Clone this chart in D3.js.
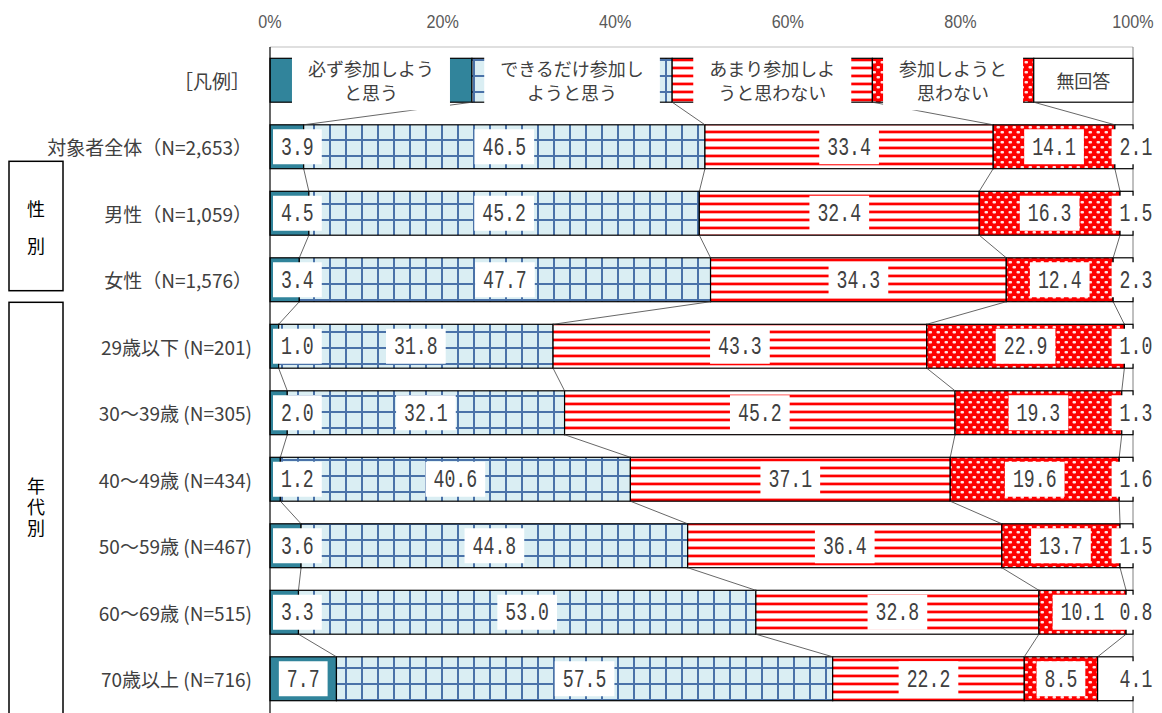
<!DOCTYPE html>
<html>
<head>
<meta charset="utf-8">
<script src="https://cdn.jsdelivr.net/npm/d3@7"></script>
<style>
	body { margin: 0; background: #fff; }
	svg { display: block; font-family: "Noto Sans CJK JP", "Noto Sans", sans-serif; }
	.cat { font-size: 19px; fill: #404040; }
	.tick { font-family: "Liberation Sans", sans-serif; font-size: 19px; fill: #595959; }
	.val { font-family: "Liberation Mono", monospace; font-size: 26px; fill: #404040; }
	.leg { font-size: 18px; fill: #404040; }
	.grp { font-size: 18px; fill: #000; writing-mode: vertical-rl; }
</style>
</head>
<body>
<svg id="chart" width="1162" height="713"></svg>
<script>
// 항목 / 계열
const categories = [
	'対象者全体（N=2,653）',
	'男性（N=1,059）',
	'女性（N=1,576）',
	'29歳以下 (N=201)',
	'30～39歳 (N=305)',
	'40～49歳 (N=434)',
	'50～59歳 (N=467)',
	'60～69歳 (N=515)',
	'70歳以上 (N=716)'
];
const seriesNames = ['必ず参加しようと思う', 'できるだけ参加しようと思う', 'あまり参加しようと思わない', '参加しようと思わない', '無回答'];

const mustJoin    = [3.9, 4.5, 3.4, 1.0, 2.0, 1.2, 3.6, 3.3, 7.7];
const tryJoin     = [46.5, 45.2, 47.7, 31.8, 32.1, 40.6, 44.8, 53.0, 57.5];
const rarelyJoin  = [33.4, 32.4, 34.3, 43.3, 45.2, 37.1, 36.4, 32.8, 22.2];
const notJoin     = [14.1, 16.3, 12.4, 22.9, 19.3, 19.6, 13.7, 10.1, 8.5];
const noAnswer    = [2.1, 1.5, 2.3, 1.0, 1.3, 1.6, 1.5, 0.8, 4.1];

// 凡例 row (legend drawn as a bar)
const legendTitle = '［凡例］';
const legendValues = [23.4, 23.2, 23.2, 18.7, 11.5];
const legendLines = [
	['必ず参加しよう', 'と思う'],
	['できるだけ参加し', 'ようと思う'],
	['あまり参加しよ', 'うと思わない'],
	['参加しようと', '思わない'],
	['無回答']
];

const tickValues = [0, 20, 40, 60, 80, 100];
const tickLabels = ['0%', '20%', '40%', '60%', '80%', '100%'];

// group boxes (category index range)
const groups = [
	{ text: '性別', from: 1, to: 2 },
	{ text: '年代別', from: 3, to: 8 }
];

const series = [mustJoin, tryJoin, rarelyJoin, notJoin, noAnswer];

const svg = d3.select('#chart');

// patterns
const defs = svg.append('defs');

const pGrid = defs.append('pattern').attr('id', 'pGrid')
	.attr('patternUnits', 'userSpaceOnUse').attr('width', 16).attr('height', 16)
	.attr('x', 2).attr('y', 4);
pGrid.append('rect').attr('width', 16).attr('height', 16).attr('fill', '#DAEEF3');
pGrid.append('rect').attr('x', 7).attr('width', 2).attr('height', 16).attr('fill', '#4A72A8');
pGrid.append('rect').attr('y', 7).attr('width', 16).attr('height', 2).attr('fill', '#4A72A8');

const pStripe = defs.append('pattern').attr('id', 'pStripe')
	.attr('patternUnits', 'userSpaceOnUse').attr('width', 8).attr('height', 8);
pStripe.append('rect').attr('width', 8).attr('height', 8).attr('fill', '#fff');
pStripe.append('rect').attr('y', 2).attr('width', 8).attr('height', 1).attr('fill', '#FF9A9A');
pStripe.append('rect').attr('y', 3).attr('width', 8).attr('height', 2).attr('fill', '#FF0000');
pStripe.append('rect').attr('y', 5).attr('width', 8).attr('height', 1).attr('fill', '#FFB0B0');

const pDots = defs.append('pattern').attr('id', 'pDots')
	.attr('patternUnits', 'userSpaceOnUse').attr('width', 8).attr('height', 10);
pDots.append('rect').attr('width', 8).attr('height', 10).attr('fill', '#FF0000');
pDots.append('rect').attr('x', 0.5).attr('y', 1).attr('width', 3.5).attr('height', 2.5).attr('rx', 1).attr('fill', '#FFE4E4');
pDots.append('rect').attr('x', 4.5).attr('y', 6).attr('width', 3.5).attr('height', 2.5).attr('rx', 1).attr('fill', '#FFE4E4');

const fills = ['#31849B', 'url(#pGrid)', 'url(#pStripe)', 'url(#pDots)', '#FFFFFF'];

// scales
const rowKeys = [legendTitle].concat(categories);
const x = d3.scaleLinear().domain([0, 100]).range([270, 1133]);
const y = d3.scaleBand().domain(rowKeys).range([47, 712]).paddingInner(0.34).paddingOuter(0.17);
const bw = y.bandwidth();

const rowData = rowKeys.map((k, i) => {
	const vals = i === 0 ? legendValues : series.map((s) => s[i - 1]);
	const total = d3.sum(vals);
	let acc = 0;
	return vals.map((v, j) => {
		const seg = { row: i, key: k, j: j, v: v, x0: acc / total * 100 };
		acc += v;
		seg.x1 = acc / total * 100;
		return seg;
	});
});

// frame
svg.append('line').attr('x1', x(0)).attr('x2', x(100)).attr('y1', 47).attr('y2', 47)
	.attr('stroke', '#BFBFBF').attr('stroke-width', 1);
svg.append('line').attr('x1', x(100)).attr('x2', x(100)).attr('y1', 47).attr('y2', 713)
	.attr('stroke', '#808080').attr('stroke-width', 1);

// tick labels
svg.selectAll('.tick').data(tickValues).enter().append('text')
	.attr('class', 'tick')
	.attr('text-anchor', 'middle')
	.attr('dominant-baseline', 'central')
	.attr('transform', (d) => `translate(${x(d)},22) scale(0.85,1)`)
	.text((d, i) => tickLabels[i]);

// bars
rowData.forEach((row) => {
	svg.append('g').selectAll('rect').data(row).enter().append('rect')
		.attr('x', (d) => x(d.x0))
		.attr('y', (d) => y(d.key))
		.attr('width', (d) => x(d.x1) - x(d.x0))
		.attr('height', bw)
		.attr('fill', (d) => fills[d.j])
		.attr('stroke', '#000')
		.attr('stroke-width', 1.2);
});

// left axis
svg.append('line').attr('x1', x(0)).attr('x2', x(0)).attr('y1', 47).attr('y2', 713)
	.attr('stroke', '#000').attr('stroke-width', 1.2);

// series lines between bars
for (let i = 0; i < rowData.length - 1; i++) {
	for (let j = 0; j < 4; j++) {
		svg.append('line')
			.attr('x1', x(rowData[i][j].x1))
			.attr('y1', y(rowKeys[i]) + bw)
			.attr('x2', x(rowData[i + 1][j].x1))
			.attr('y2', y(rowKeys[i + 1]))
			.attr('stroke', '#404040')
			.attr('stroke-width', 0.8);
	}
}

// legend labels
rowData[0].forEach((d) => {
	const cx = (x(d.x0) + x(d.x1)) / 2;
	const cy = y(d.key) + bw / 2;
	const lines = legendLines[d.j];
	const g = svg.append('g');
	const t = g.append('text').attr('class', 'leg').attr('text-anchor', 'middle');
	lines.forEach((s, k) => {
		t.append('tspan')
			.attr('x', cx)
			.attr('y', cy + (k - (lines.length - 1) / 2) * 24)
			.attr('dominant-baseline', 'central')
			.text(s);
	});
	if (d.j < 4) {
		const w = t.node().getBBox().width + 32;
		g.insert('rect', 'text')
			.attr('x', cx - w / 2).attr('y', cy - 30)
			.attr('width', w).attr('height', 60)
			.attr('fill', '#fff');
	}
});

// data labels
const fmt = d3.format('.1f');
rowData.slice(1).forEach((row) => {
	row.forEach((d) => {
		let cx = (x(d.x0) + x(d.x1)) / 2;
		const cy = y(d.key) + bw / 2;
		const g = svg.append('g');
		const t = g.append('text')
			.attr('class', 'val')
			.attr('text-anchor', 'middle')
			.attr('dominant-baseline', 'central')
			.text(fmt(d.v));
		const w = t.node().getComputedTextLength() * 0.7 + 16;
		if (d.j === 0) cx = Math.max(cx, x(0) + w / 2 + 3);
		if (d.j === 4) cx = Math.max(cx, x(100) + 3);
		t.attr('transform', `translate(${cx},${cy + 1}) scale(0.7,1)`);
		g.insert('rect', 'text')
			.attr('x', cx - w / 2).attr('y', cy - 17.5)
			.attr('width', w).attr('height', 35)
			.attr('fill', '#fff');
	});
});

// category labels
svg.selectAll('.cat').data(rowKeys).enter().append('text')
	.attr('class', 'cat')
	.attr('x', (d, i) => i === 0 ? 250 : 252)
	.attr('y', (d) => y(d) + bw / 2)
	.attr('text-anchor', 'end')
	.attr('dominant-baseline', 'central')
	.text((d) => d);

// group boxes
groups.forEach((gr) => {
	const first = rowKeys[gr.from + 1];
	const last = rowKeys[gr.to + 1];
	const isLast = gr.to === categories.length - 1;
	const top = y(first) - (gr.to - gr.from < 2 ? 30 : 22);
	const bottom = isLast ? 730 : y(last) + bw - 11;
	svg.append('rect')
		.attr('x', 9).attr('y', top)
		.attr('width', 54).attr('height', bottom - top)
		.attr('fill', 'none').attr('stroke', '#000').attr('stroke-width', 1.5);
	const ls = gr.text.length === 2 ? 19 : 3;
	const mid = (top + Math.min(bottom, 713)) / 2 + (gr.text.length === 2 ? 2 : 0);
	svg.append('text')
		.attr('class', 'grp')
		.attr('x', 36)
		.attr('y', mid + ls / 2)
		.attr('text-anchor', 'middle')
		.style('letter-spacing', ls + 'px')
		.text(gr.text);
});
</script>
</body>
</html>
